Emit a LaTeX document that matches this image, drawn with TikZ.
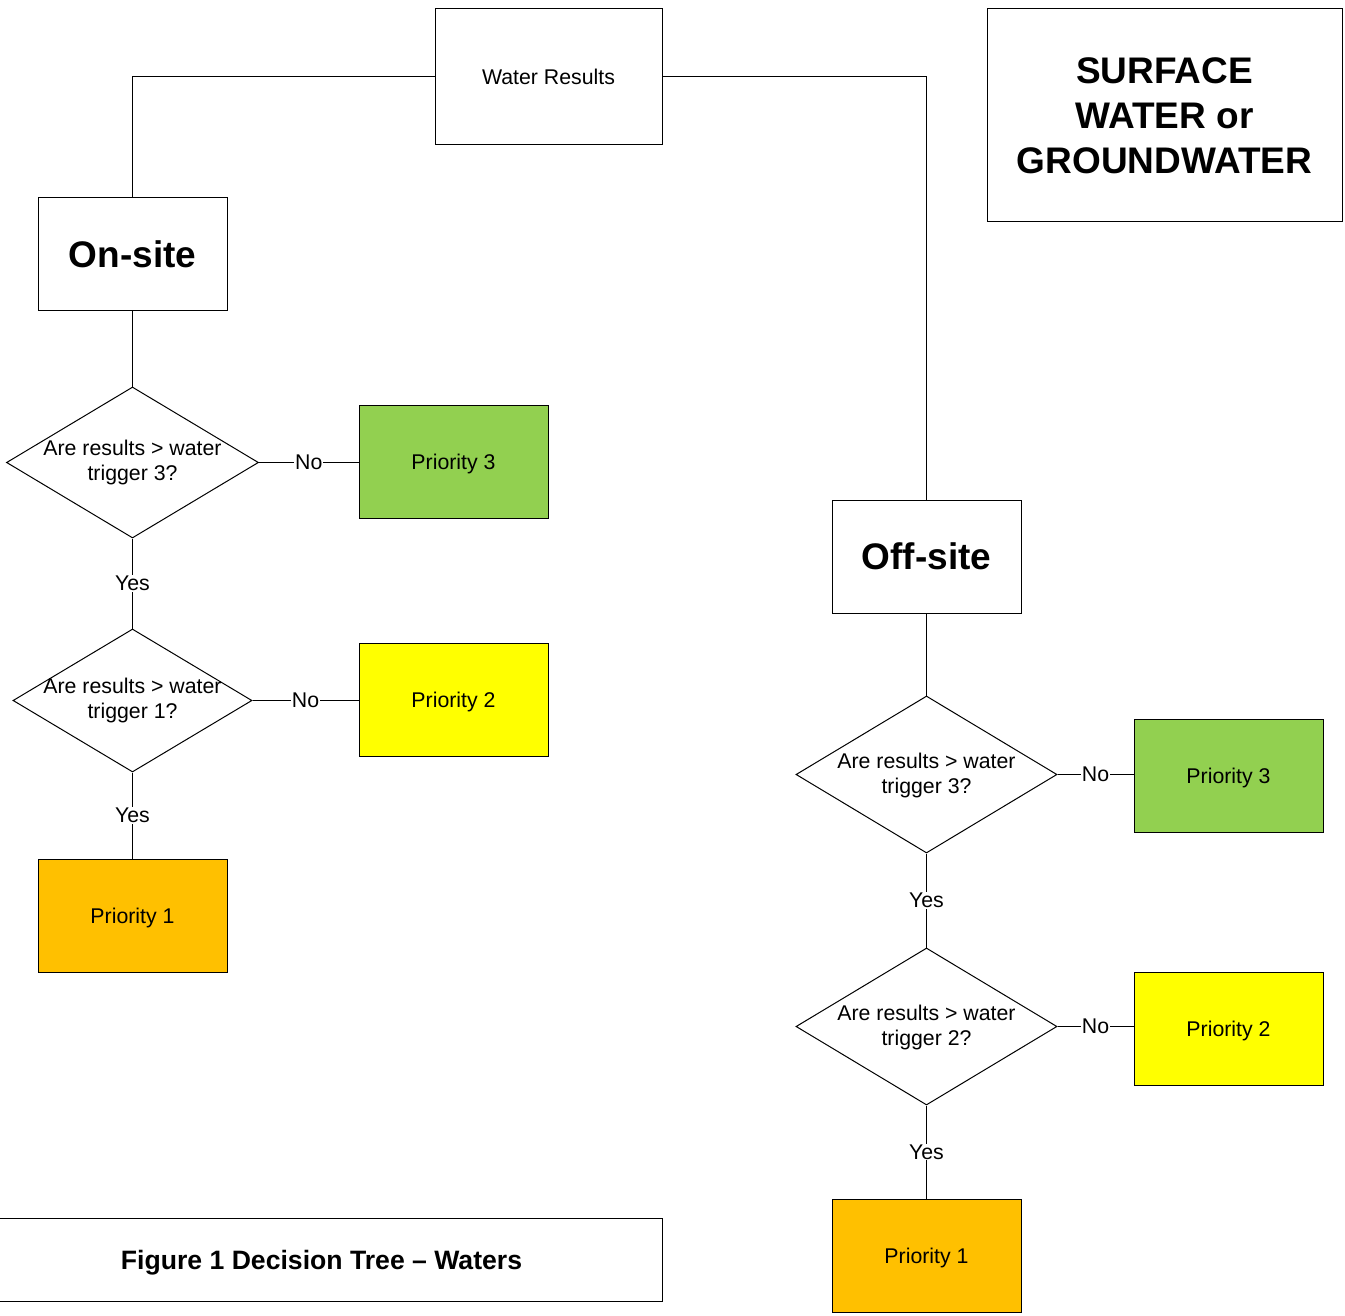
\documentclass[tikz,border=0pt]{standalone}
\usepackage{fontspec}
\setmainfont{Liberation Sans}
\usetikzlibrary{shapes.geometric}
\definecolor{pgreen}{HTML}{92D050}
\definecolor{pyellow}{HTML}{FFFF00}
\definecolor{porange}{HTML}{FFC000}
\begin{document}
\begin{tikzpicture}[x=1pt,y=-1pt,line width=1pt,
  normaltext/.style={font=\fontsize{21.3}{25}\selectfont},
  box/.style={draw=black,line width=1pt,inner sep=0pt,align=center,normaltext},
  prio/.style={box,minimum width=189pt,minimum height=113pt,text depth=0pt},
  bigbox/.style={box,minimum width=189pt,minimum height=113pt,font=\fontsize{37}{45}\selectfont\bfseries},
  dia/.style={draw=black,line width=1pt,diamond,inner sep=0pt,aspect=1.6},
  qtext/.style={align=center,normaltext,inner sep=0pt},
  lbl/.style={fill=white,inner sep=1pt,normaltext},
  conn/.style={draw=black,line width=1pt}
]
\useasboundingbox (0,0) rectangle (1345,1316);

% top boxes
\node[box,minimum width=227pt,minimum height=136pt,text depth=0pt] (wr) at (548.5,77) {Water Results};
\node[box,minimum width=355pt,minimum height=213pt,font=\fontsize{37}{45}\selectfont\bfseries] (title) at (1164.5,115.5) {SURFACE\\WATER or\\GROUNDWATER};

% on-site branch
\node[bigbox] (on) at (132.5,254.5) {On-site};
\node[dia,minimum width=252pt,minimum height=151pt] (ld1) at (132.5,462.5) {};
\node[qtext] (ld1t) at (132.5,462.5) {Are results > water\\trigger 3?};
\node[prio,fill=pgreen] (lp3) at (453.5,462) {Priority 3};
\node[dia,minimum width=239pt,minimum height=143pt] (ld2) at (132.5,700.5) {};
\node[qtext] (ld2t) at (132.5,700.5) {Are results > water\\trigger 1?};
\node[prio,fill=pyellow] (lp2) at (453.5,700) {Priority 2};
\node[prio,fill=porange] (lp1) at (132.5,915.5) {Priority 1};

% off-site branch
\node[bigbox] (off) at (926.5,556.5) {Off-site};
\node[dia,minimum width=261pt,minimum height=157pt] (rd1) at (926.5,774.5) {};
\node[qtext] (rd1t) at (926.5,775) {Are results > water\\trigger 3?};
\node[prio,fill=pgreen] (rp3) at (1228.5,775.5) {Priority 3};
\node[dia,minimum width=261pt,minimum height=157pt] (rd2) at (926.5,1026.5) {};
\node[qtext] (rd2t) at (926.5,1027) {Are results > water\\trigger 2?};
\node[prio,fill=pyellow] (rp2) at (1228.5,1029) {Priority 2};
\node[prio,fill=porange] (rp1) at (926.5,1255.5) {Priority 1};

% caption
\node[draw=black,line width=1pt,minimum width=666pt,minimum height=83pt,inner sep=0pt] (cap) at (329,1259.5) {};
\node[font=\fontsize{26.6}{30}\selectfont\bfseries,inner sep=0pt,text depth=0pt] (capt) at (321.5,1259.5) {Figure 1 Decision Tree – Waters};

% connectors
\draw[conn] (wr.west) -| (on.north);
\draw[conn] (wr.east) -| (off.north);
\draw[conn] (on.south) -- (ld1.north);
\draw[conn] (ld1.east) -- node[lbl] {No} (ld1.east -| lp3.west);
\draw[conn] (ld1.south) -- node[lbl] {Yes} (ld2.north);
\draw[conn] (ld2.east) -- node[lbl] {No} (ld2.east -| lp2.west);
\draw[conn] (ld2.south) -- node[lbl] {Yes} (lp1.north);

\draw[conn] (off.south) -- (rd1.north);
\draw[conn] (rd1.east) -- node[lbl] {No} (rd1.east -| rp3.west);
\draw[conn] (rd1.south) -- node[lbl] {Yes} (rd2.north);
\draw[conn] (rd2.east) -- node[lbl] {No} (rd2.east -| rp2.west);
\draw[conn] (rd2.south) -- node[lbl] {Yes} (rp1.north);
\end{tikzpicture}
\end{document}
